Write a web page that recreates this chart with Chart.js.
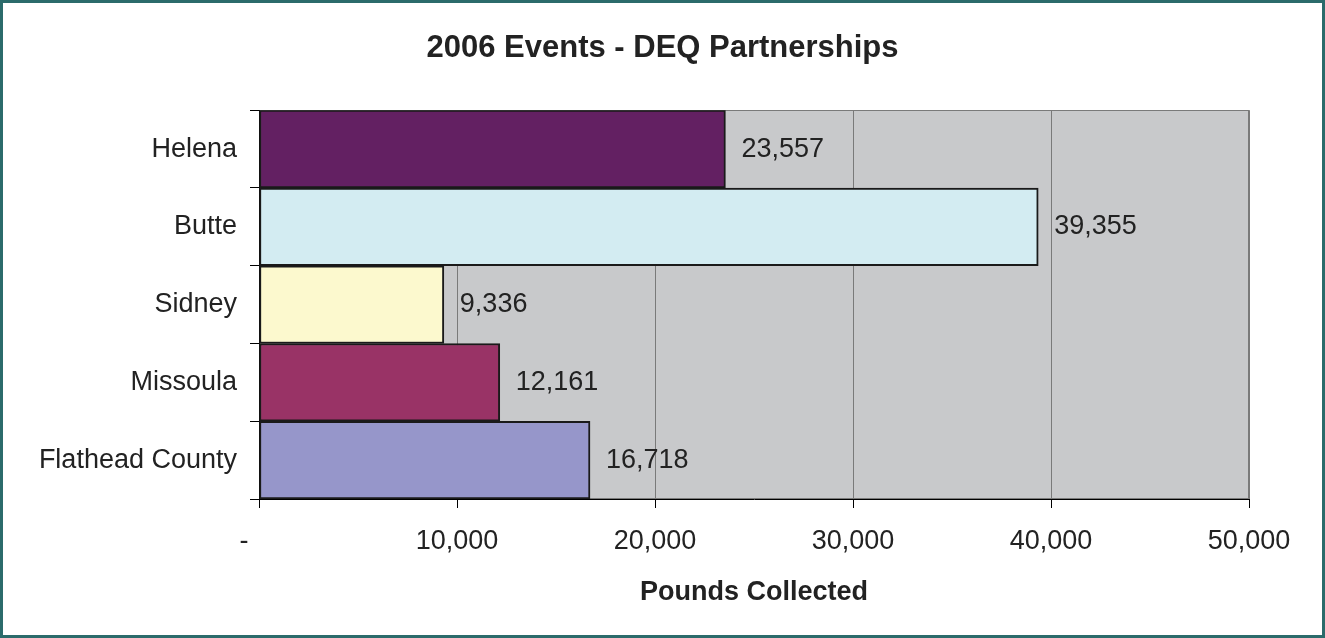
<!DOCTYPE html>
<html>
<head>
<meta charset="utf-8">
<script src="https://cdn.jsdelivr.net/npm/chart.js@4.4.1/dist/chart.umd.min.js"></script>
<style>
  html, body { margin: 0; padding: 0; background: #fff; }
  #frame { width: 1325px; height: 638px; box-sizing: border-box; border: 3px solid #2b6b6b; background: #fff; }
  #wrap { width: 1319px; height: 632px; position: relative; }
</style>
</head>
<body>
<div id="frame"><div id="wrap"><canvas id="c"></canvas></div></div>
<script>
const categories = ["Helena", "Butte", "Sidney", "Missoula", "Flathead County"];
const pounds = [23557, 39355, 9336, 12161, 16718];
const barColors = ["#632062", "#d3ecf2", "#fcf9ce", "#993366", "#9696ca"];
const xTickValues = [0, 10000, 20000, 30000, 40000, 50000];
const xTickLabels = ["-    ", "10,000", "20,000", "30,000", "40,000", "50,000"];
const titleText = "2006 Events - DEQ Partnerships";
const xAxisTitle = "Pounds Collected";

const FONT = "'Liberation Sans', Arial, sans-serif";
const TEXT = "#222222";

const plotBg = {
  id: 'plotBg',
  beforeDraw(chart) {
    const {ctx, chartArea: a} = chart;
    ctx.save();
    ctx.fillStyle = '#c8c9cb';
    ctx.fillRect(a.left, a.top, a.right - a.left, a.bottom - a.top);
    ctx.strokeStyle = '#7a7a7a';
    ctx.lineWidth = 1;
    ctx.strokeRect(Math.round(a.left) + 0.5, Math.round(a.top) + 0.5, Math.round(a.right - a.left) - 1, Math.round(a.bottom - a.top) - 1);
    ctx.restore();
  }
};

const valueLabels = {
  id: 'valueLabels',
  afterDatasetsDraw(chart) {
    const {ctx} = chart;
    const meta = chart.getDatasetMeta(0);
    ctx.save();
    ctx.font = "27px " + FONT;
    ctx.fillStyle = TEXT;
    ctx.textAlign = 'left';
    ctx.textBaseline = 'middle';
    meta.data.forEach((bar, i) => {
      const v = chart.data.datasets[0].data[i];
      ctx.fillText(v.toLocaleString('en-US'), bar.x + 16, bar.y);
    });
    ctx.restore();
  }
};

new Chart(document.getElementById('c'), {
  type: 'bar',
  data: {
    labels: categories,
    datasets: [{
      data: pounds,
      backgroundColor: barColors,
      borderColor: '#1a1a1a',
      borderWidth: 2,
      borderSkipped: false,
      barPercentage: 1,
      categoryPercentage: 1
    }]
  },
  options: {
    indexAxis: 'y',
    responsive: true,
    maintainAspectRatio: false,
    animation: false,
    layout: { padding: 0 },
    plugins: {
      legend: { display: false },
      tooltip: { enabled: false },
      title: {
        display: true,
        text: titleText,
        color: TEXT,
        font: { family: FONT, size: 31, weight: 'bold', lineHeight: 1.2 },
        padding: { top: 27, bottom: 43 }
      }
    },
    scales: {
      x: {
        type: 'linear',
        min: 0,
        max: 50000,
        afterBuildTicks(scale) {
          scale.ticks = xTickValues.map(v => ({ value: v }));
        },
        afterFit(scale) { scale.height = 136; },
        grid: { color: '#7a7a7a', lineWidth: 1, tickColor: '#000', tickLength: 9, drawTicks: true },
        border: { display: true, color: '#000', width: 1 },
        ticks: {
          color: TEXT,
          font: { family: FONT, size: 27 },
          padding: 17,
          maxRotation: 0,
          autoSkip: false,
          callback: (v, i) => xTickLabels[i]
        },
        title: {
          display: true,
          text: xAxisTitle,
          color: TEXT,
          font: { family: FONT, size: 27, weight: 'bold', lineHeight: 1.2 },
          padding: { top: 0, bottom: 26 }
        }
      },
      y: {
        type: 'category',
        afterFit(scale) { scale.width = 256; },
        grid: { drawOnChartArea: false, offset: true, color: '#000', tickColor: '#000', tickLength: 9 },
        border: { display: true, color: '#000', width: 1 },
        ticks: {
          color: TEXT,
          font: { family: FONT, size: 27 },
          padding: 13
        }
      },
      yRight: {
        type: 'linear',
        position: 'right',
        display: true,
        afterFit(scale) { scale.width = 73; },
        grid: { display: false, drawTicks: false },
        border: { display: false },
        ticks: { display: false }
      }
    }
  },
  plugins: [plotBg, valueLabels]
});
</script>
</body>
</html>
